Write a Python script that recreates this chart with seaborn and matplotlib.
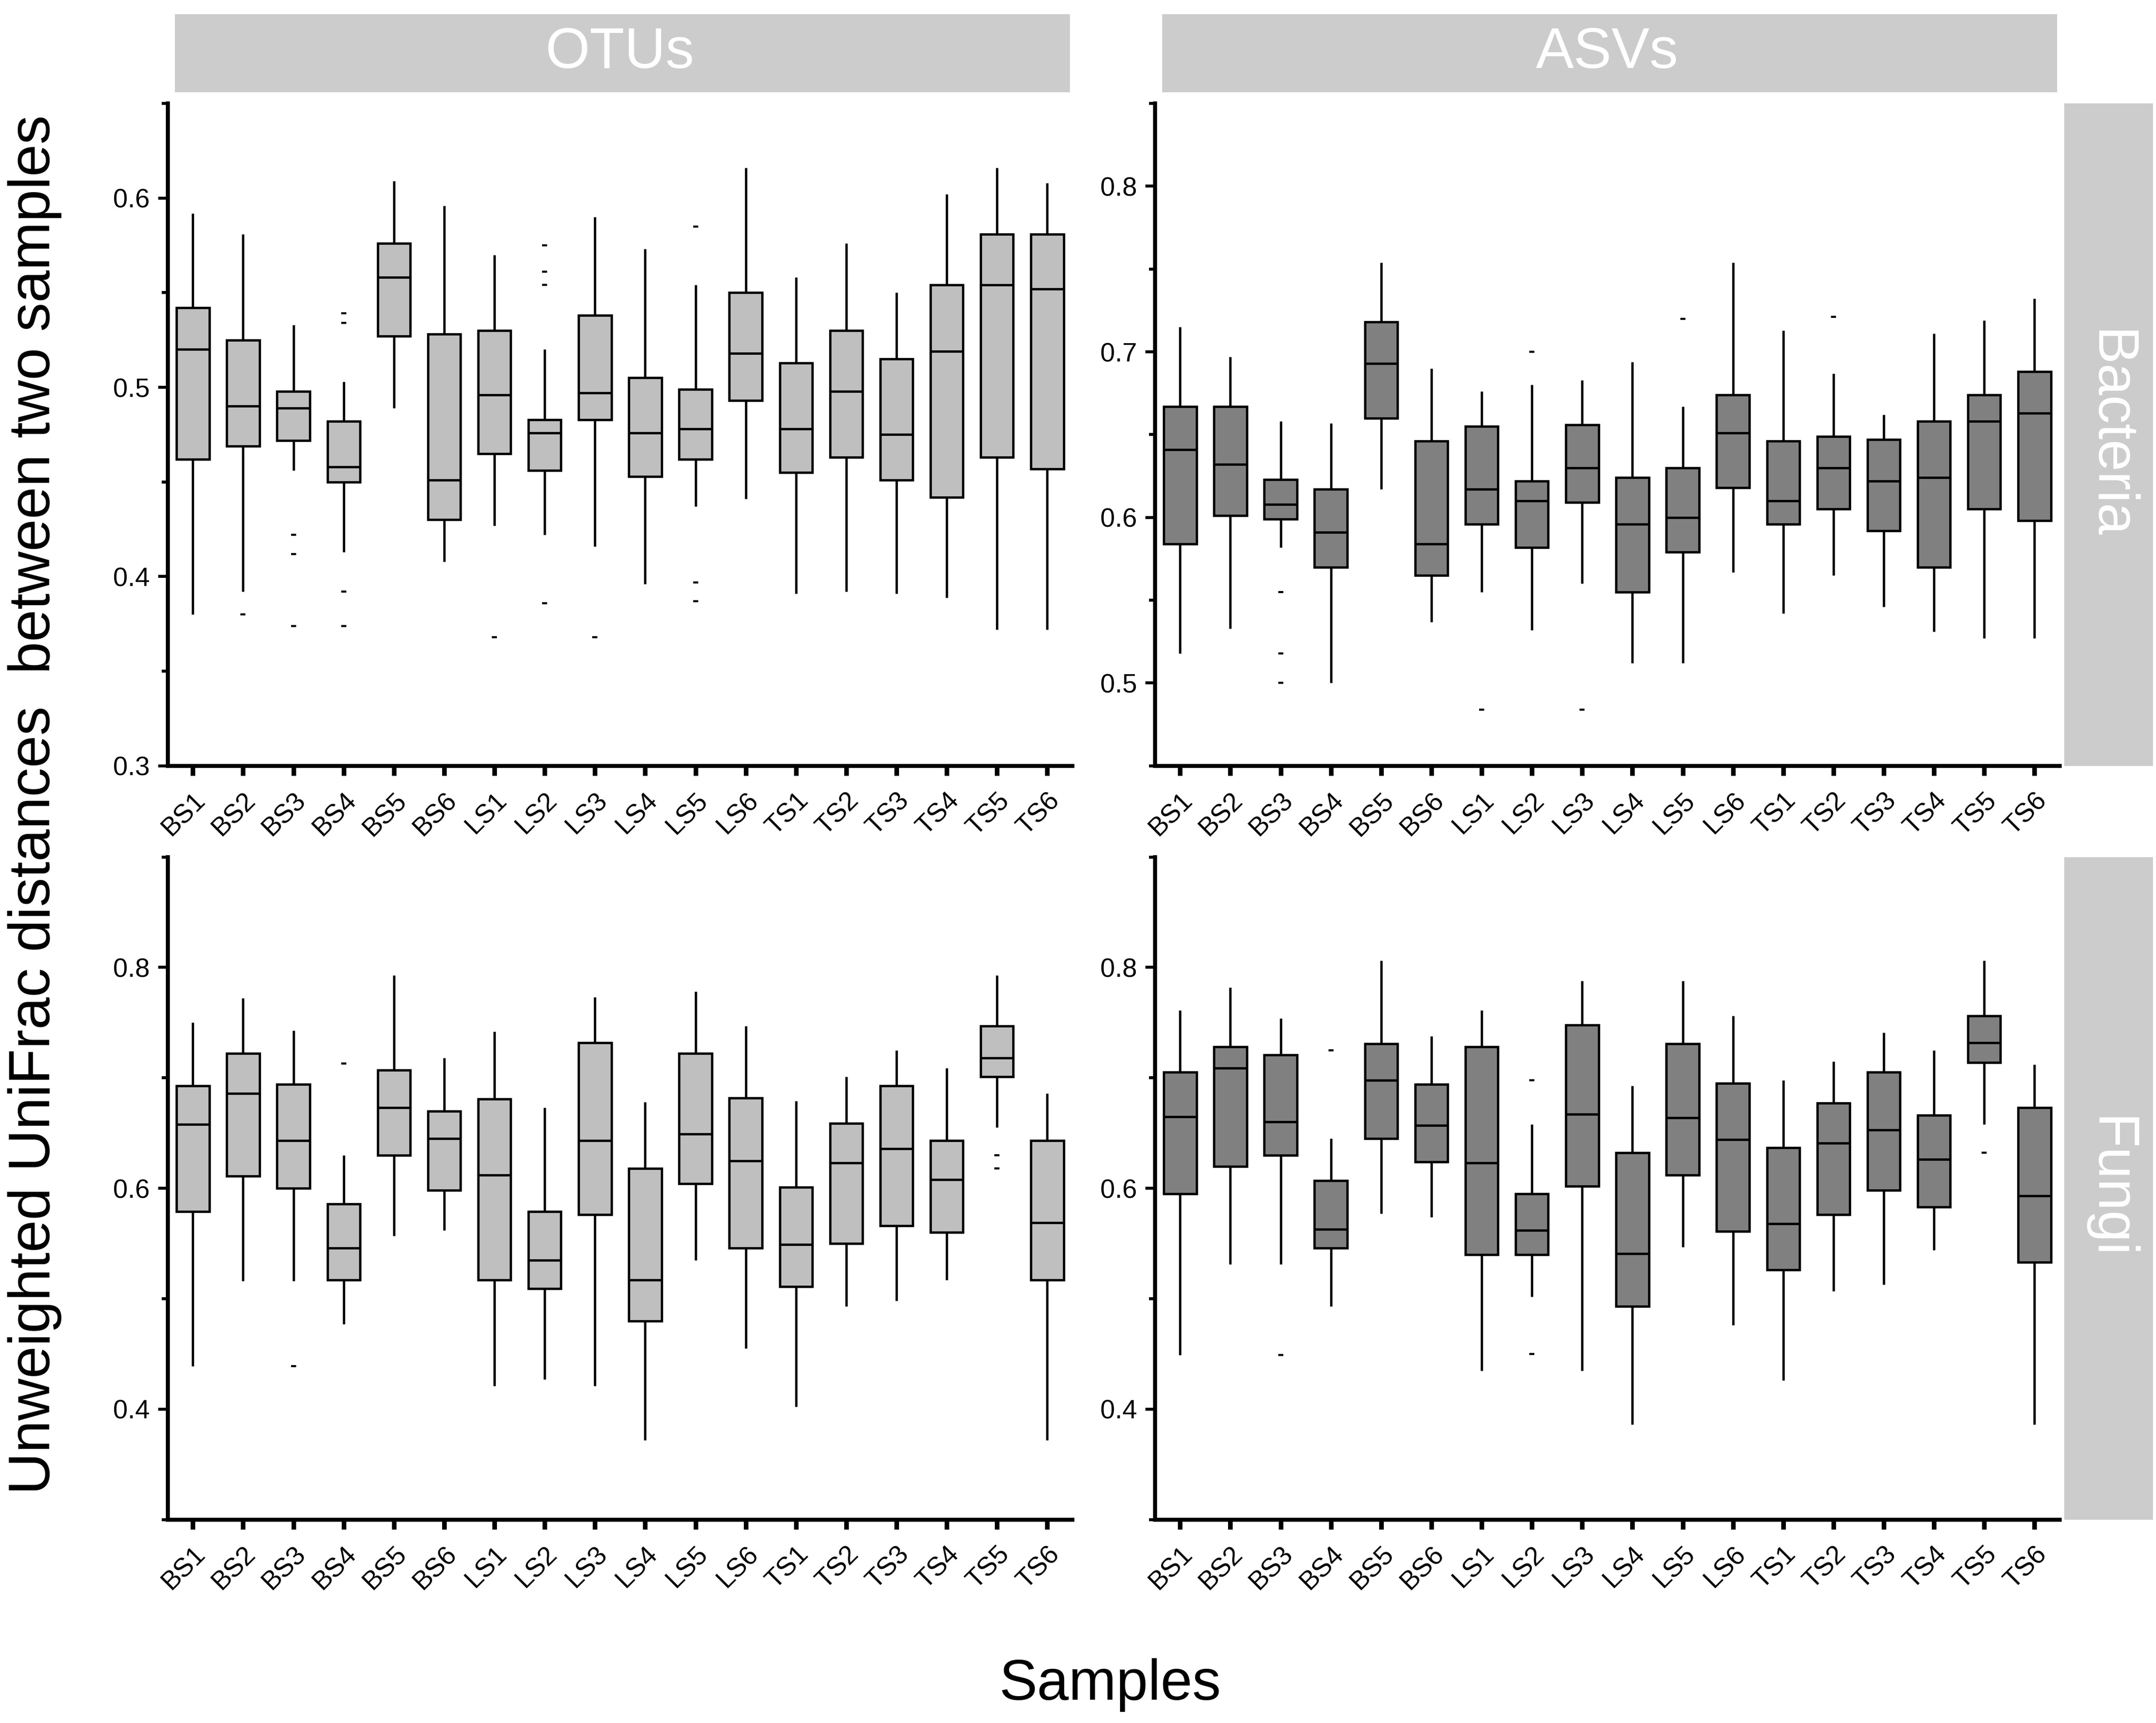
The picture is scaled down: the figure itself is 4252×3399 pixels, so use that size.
import numpy as np
import pandas as pd
import matplotlib
matplotlib.use("Agg")
import matplotlib.pyplot as plt
from matplotlib.patches import Rectangle
from matplotlib.ticker import MultipleLocator
import seaborn as sns

# Sample names on the x axis
samples = ["BS1", "BS2", "BS3", "BS4", "BS5", "BS6",
           "LS1", "LS2", "LS3", "LS4", "LS5", "LS6",
           "TS1", "TS2", "TS3", "TS4", "TS5", "TS6"]

# Bacteria / OTUs : whisker low, Q1, median, Q3, whisker high
bac_otu_low = [0.380, 0.392, 0.456, 0.413, 0.489, 0.408, 0.427, 0.422, 0.416,
               0.396, 0.437, 0.441, 0.391, 0.392, 0.391, 0.389, 0.372, 0.372]
bac_otu_q1 = [0.462, 0.469, 0.472, 0.450, 0.527, 0.430, 0.465, 0.456, 0.483,
              0.453, 0.462, 0.493, 0.455, 0.463, 0.451, 0.442, 0.463, 0.457]
bac_otu_med = [0.520, 0.490, 0.489, 0.458, 0.558, 0.451, 0.496, 0.476, 0.497,
               0.476, 0.478, 0.518, 0.478, 0.498, 0.475, 0.519, 0.554, 0.552]
bac_otu_q3 = [0.542, 0.525, 0.498, 0.482, 0.576, 0.528, 0.530, 0.483, 0.538,
              0.505, 0.499, 0.550, 0.513, 0.530, 0.515, 0.554, 0.581, 0.581]
bac_otu_high = [0.592, 0.581, 0.533, 0.503, 0.609, 0.596, 0.570, 0.520, 0.590,
                0.573, 0.554, 0.616, 0.558, 0.576, 0.550, 0.602, 0.616, 0.608]

# Bacteria / ASVs
bac_asv_low = [0.518, 0.533, 0.582, 0.500, 0.617, 0.537, 0.555, 0.532, 0.560,
               0.512, 0.512, 0.567, 0.542, 0.565, 0.546, 0.531, 0.527, 0.527]
bac_asv_q1 = [0.584, 0.601, 0.599, 0.570, 0.660, 0.565, 0.596, 0.582, 0.609,
              0.555, 0.579, 0.618, 0.596, 0.605, 0.592, 0.570, 0.605, 0.598]
bac_asv_med = [0.641, 0.632, 0.608, 0.591, 0.693, 0.584, 0.617, 0.610, 0.630,
               0.596, 0.600, 0.651, 0.610, 0.630, 0.622, 0.624, 0.658, 0.663]
bac_asv_q3 = [0.667, 0.667, 0.623, 0.617, 0.718, 0.646, 0.655, 0.622, 0.656,
              0.624, 0.630, 0.674, 0.646, 0.649, 0.647, 0.658, 0.674, 0.688]
bac_asv_high = [0.715, 0.697, 0.658, 0.657, 0.754, 0.690, 0.676, 0.680, 0.683,
                0.694, 0.667, 0.754, 0.713, 0.687, 0.662, 0.711, 0.719, 0.732]

# Fungi / OTUs
fun_otu_low = [0.439, 0.516, 0.516, 0.477, 0.557, 0.562, 0.421, 0.427, 0.421,
               0.372, 0.535, 0.455, 0.402, 0.493, 0.498, 0.517, 0.655, 0.372]
fun_otu_q1 = [0.579, 0.611, 0.600, 0.517, 0.630, 0.598, 0.517, 0.509, 0.576,
              0.480, 0.604, 0.546, 0.511, 0.550, 0.566, 0.560, 0.701, 0.517]
fun_otu_med = [0.658, 0.686, 0.643, 0.546, 0.673, 0.645, 0.612, 0.535, 0.643,
               0.517, 0.649, 0.625, 0.549, 0.623, 0.636, 0.608, 0.718, 0.569]
fun_otu_q3 = [0.693, 0.722, 0.694, 0.586, 0.707, 0.670, 0.681, 0.579, 0.732,
              0.618, 0.722, 0.682, 0.601, 0.659, 0.693, 0.643, 0.747, 0.643]
fun_otu_high = [0.750, 0.772, 0.743, 0.630, 0.793, 0.718, 0.742, 0.673, 0.773,
                0.678, 0.778, 0.747, 0.679, 0.701, 0.725, 0.709, 0.793, 0.686]

# Fungi / ASVs
fun_asv_low = [0.449, 0.531, 0.531, 0.493, 0.577, 0.574, 0.435, 0.502, 0.435,
               0.386, 0.547, 0.476, 0.426, 0.507, 0.513, 0.544, 0.658, 0.386]
fun_asv_q1 = [0.595, 0.620, 0.630, 0.546, 0.645, 0.624, 0.540, 0.540, 0.602,
              0.493, 0.612, 0.561, 0.526, 0.576, 0.598, 0.583, 0.714, 0.533]
fun_asv_med = [0.665, 0.709, 0.660, 0.563, 0.698, 0.657, 0.623, 0.562, 0.667,
               0.541, 0.664, 0.644, 0.568, 0.641, 0.653, 0.626, 0.732, 0.593]
fun_asv_q3 = [0.705, 0.728, 0.721, 0.607, 0.731, 0.694, 0.728, 0.595, 0.748,
              0.632, 0.731, 0.695, 0.637, 0.677, 0.705, 0.666, 0.756, 0.673]
fun_asv_high = [0.761, 0.782, 0.754, 0.645, 0.806, 0.738, 0.761, 0.658, 0.788,
                0.693, 0.788, 0.756, 0.698, 0.715, 0.741, 0.725, 0.806, 0.712]

# outlying points (sample, value)
bac_otu_out = [("BS2", 0.380), ("BS3", 0.422), ("BS3", 0.412), ("BS3", 0.374),
               ("BS4", 0.539), ("BS4", 0.534), ("BS4", 0.392), ("BS4", 0.374),
               ("LS1", 0.368), ("LS2", 0.575), ("LS2", 0.561), ("LS2", 0.554),
               ("LS2", 0.386), ("LS3", 0.368), ("LS5", 0.585), ("LS5", 0.397),
               ("LS5", 0.387)]
bac_asv_out = [("BS3", 0.555), ("BS3", 0.518), ("BS3", 0.500), ("LS1", 0.484),
               ("LS2", 0.700), ("LS3", 0.484), ("LS5", 0.720), ("TS2", 0.721)]
fun_otu_out = [("BS3", 0.439), ("BS4", 0.713), ("TS5", 0.630), ("TS5", 0.618)]
fun_asv_out = [("BS3", 0.449), ("BS4", 0.725), ("LS2", 0.698), ("LS2", 0.450),
               ("TS5", 0.632)]


def five_number_frame(low, q1, med, q3, high):
    # five values per sample -> quartiles of these five are exactly q1/med/q3
    rows = []
    for i, s in enumerate(samples):
        for v in (low[i], q1[i], med[i], q3[i], high[i]):
            rows.append({"sample": s, "value": v})
    return pd.DataFrame(rows)


panels = [
    (0, 0, five_number_frame(bac_otu_low, bac_otu_q1, bac_otu_med, bac_otu_q3, bac_otu_high),
     bac_otu_out, (0.3, 0.65), 0.1, 0.05),
    (0, 1, five_number_frame(bac_asv_low, bac_asv_q1, bac_asv_med, bac_asv_q3, bac_asv_high),
     bac_asv_out, (0.45, 0.85), 0.1, 0.05),
    (1, 0, five_number_frame(fun_otu_low, fun_otu_q1, fun_otu_med, fun_otu_q3, fun_otu_high),
     fun_otu_out, (0.3, 0.9), 0.2, 0.1),
    (1, 1, five_number_frame(fun_asv_low, fun_asv_q1, fun_asv_med, fun_asv_q3, fun_asv_high),
     fun_asv_out, (0.3, 0.9), 0.2, 0.1),
]
col_titles = ["OTUs", "ASVs"]
row_titles = ["Bacteria", "Fungi"]
box_colors = ["#bfbfbf", "#808080"]
strip_color = "#cccccc"

sns.set_style("ticks")
plt.rcParams["font.family"] = ["Liberation Sans", "DejaVu Sans"]
plt.rcParams.update({"text.color": "black", "axes.labelcolor": "black",
                     "xtick.color": "black", "ytick.color": "black",
                     "axes.edgecolor": "black"})

fig = plt.figure(figsize=(4252 / 300, 3399 / 300), dpi=300)
lefts = [0.0778, 0.5357]
width = 0.4196
bottoms = [0.5555, 0.1181]
height = 0.3845

for r, c, df, outs, ylim, major, minor in panels:
    ax = fig.add_axes([lefts[c], bottoms[r], width, height])
    sns.boxplot(data=df, x="sample", y="value", order=samples, whis=(0, 100),
                width=0.65, color=box_colors[c], saturation=1, linecolor="black",
                linewidth=1.1, showfliers=False, showcaps=False, ax=ax)
    out_df = pd.DataFrame(outs, columns=["sample", "value"])
    sns.stripplot(data=out_df, x="sample", y="value", order=samples, jitter=False,
                  marker="_", color="black", size=2.5, linewidth=1.0, ax=ax)
    ax.set_xlim(-0.5, len(samples) - 0.5)
    ax.set_ylim(*ylim)
    ax.yaxis.set_major_locator(MultipleLocator(major))
    ax.yaxis.set_minor_locator(MultipleLocator(minor))
    ax.set_xlabel("")
    ax.set_ylabel("")
    for side in ["top", "right"]:
        ax.spines[side].set_visible(False)
    for side in ["left", "bottom"]:
        ax.spines[side].set_linewidth(1.9)
    ax.tick_params(axis="both", which="major", direction="out", length=4.5,
                   width=1.4, labelsize=12.5, pad=4)
    ax.tick_params(axis="y", which="minor", direction="out", length=3, width=1.4)
    ax.tick_params(axis="x", which="major", width=2.2, length=4.5, pad=6)
    for lab in ax.get_xticklabels():
        lab.set_rotation(45)
        lab.set_ha("right")
        lab.set_rotation_mode("anchor")
    ax.set_yticklabels([f"{t:.1f}" for t in ax.get_yticks()])

    if r == 0:
        ax.add_patch(Rectangle((0.008, 1.017), 0.989, 0.118, transform=ax.transAxes,
                               facecolor=strip_color, edgecolor="none", clip_on=False))
        ax.text(0.5, 1.076, col_titles[c], transform=ax.transAxes, ha="center",
                va="center", color="white", fontsize=27)
    if c == 1:
        ax.add_patch(Rectangle((1.005, 0.0), 0.098, 1.0, transform=ax.transAxes,
                               facecolor=strip_color, edgecolor="none", clip_on=False))
        ax.text(1.054, 0.5, row_titles[r], transform=ax.transAxes, ha="center",
                va="center", color="white", fontsize=27, rotation=-90)

fig.text(0.016, 0.533, "Unweighted UniFrac distances  between two samples",
         rotation=90, ha="center", va="center", fontsize=27.5)
fig.text(0.515, 0.022, "Samples", ha="center", va="center", fontsize=27)

fig.savefig("out.png", dpi=300)
